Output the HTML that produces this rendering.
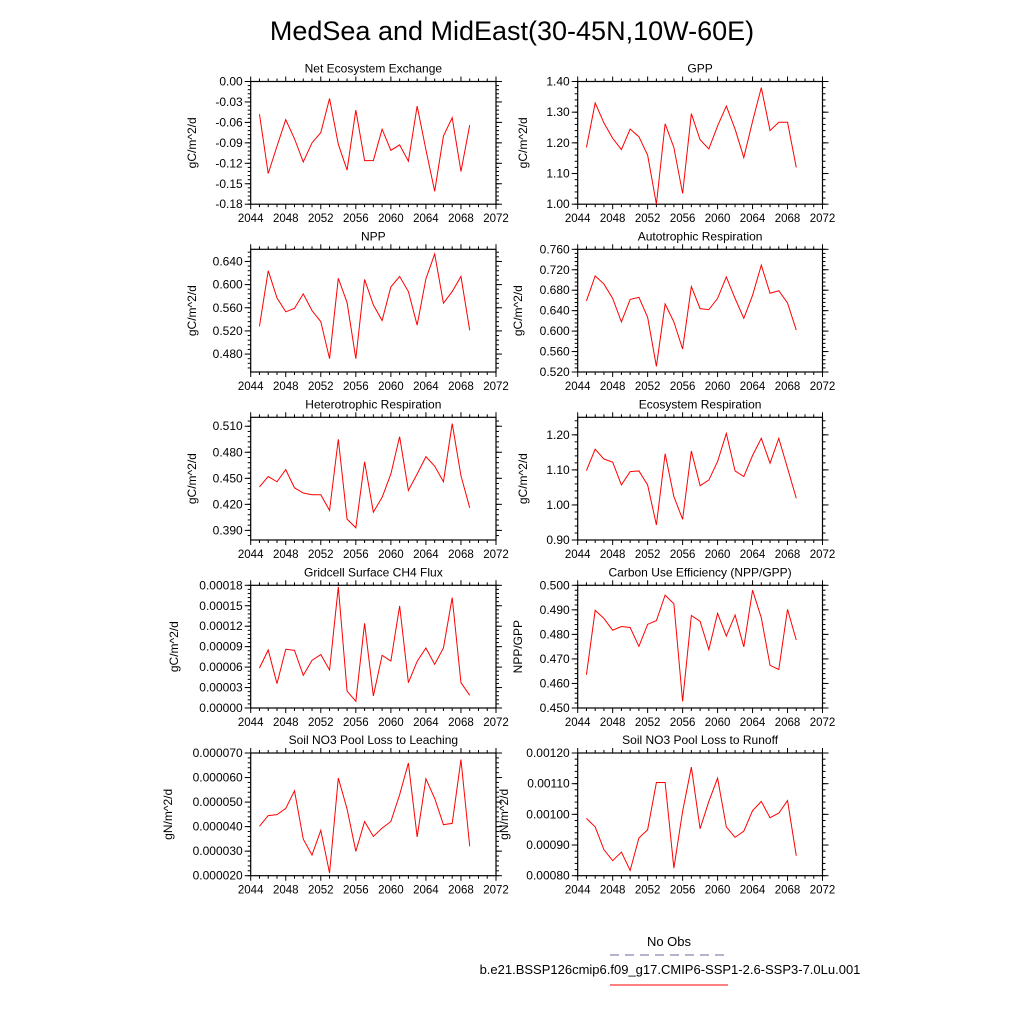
<!DOCTYPE html>
<html><head><meta charset="utf-8"><style>
html,body{margin:0;padding:0;background:#fff;}
svg{display:block;font-family:"Liberation Sans",sans-serif;}
</style></head><body>
<svg id="chart" width="1024" height="1024" viewBox="0 0 1024 1024" xmlns="http://www.w3.org/2000/svg">
<text x="512" y="40" font-size="27" text-anchor="middle">MedSea and MidEast(30-45N,10W-60E)</text>
<g>
<text x="669" y="946" font-size="13" text-anchor="middle">No Obs</text>
<line x1="610" y1="955" x2="728" y2="955" stroke="#6a6a9a" stroke-width="1" stroke-dasharray="9,6"/>
<text x="670" y="974" font-size="13" text-anchor="middle">b.e21.BSSP126cmip6.f09_g17.CMIP6-SSP1-2.6-SSP3-7.0Lu.001</text>
<line x1="610" y1="985" x2="728" y2="985" stroke="red" stroke-width="1"/>
</g>
<g id="panels"></g>
</svg>
<script>
const years = [2045,2046,2047,2048,2049,2050,2051,2052,2053,2054,2055,2056,2057,2058,2059,2060,2061,2062,2063,2064,2065,2066,2067,2068,2069];
const xTicks = [2044,2048,2052,2056,2060,2064,2068,2072];
const neeValues = [-0.048,-0.135,-0.095,-0.056,-0.084,-0.118,-0.090,-0.075,-0.025,-0.092,-0.130,-0.042,-0.116,-0.116,-0.070,-0.101,-0.093,-0.117,-0.036,-0.100,-0.161,-0.080,-0.053,-0.132,-0.064];
const gppValues = [1.185,1.33,1.265,1.215,1.178,1.245,1.22,1.16,1.00,1.262,1.185,1.035,1.295,1.21,1.18,1.255,1.32,1.245,1.152,1.27,1.38,1.24,1.267,1.267,1.12];
const nppValues = [0.528,0.624,0.577,0.553,0.559,0.584,0.555,0.536,0.472,0.611,0.569,0.472,0.609,0.565,0.538,0.596,0.614,0.588,0.530,0.610,0.653,0.568,0.588,0.614,0.521];
const arValues = [0.659,0.708,0.692,0.664,0.618,0.662,0.666,0.627,0.531,0.653,0.618,0.565,0.687,0.644,0.642,0.664,0.706,0.664,0.625,0.670,0.729,0.674,0.679,0.655,0.602];
const hrValues = [0.440,0.452,0.446,0.460,0.439,0.433,0.431,0.431,0.413,0.495,0.403,0.393,0.469,0.411,0.428,0.455,0.498,0.436,0.455,0.475,0.464,0.446,0.513,0.453,0.416];
const erValues = [1.098,1.159,1.131,1.122,1.057,1.095,1.097,1.057,0.943,1.146,1.024,0.959,1.154,1.055,1.071,1.124,1.204,1.097,1.081,1.141,1.190,1.119,1.190,1.105,1.019];
const ch4Values = [0.0000587,0.0000851,0.0000357,0.0000861,0.0000846,0.0000479,0.0000699,0.0000783,0.0000558,0.0001776,0.0000249,0.0000098,0.0001242,0.0000176,0.0000773,0.0000689,0.0001497,0.0000371,0.0000685,0.0000880,0.0000641,0.0000880,0.0001619,0.0000371,0.0000186];
const cueValues = [0.4636,0.4898,0.4865,0.4817,0.4832,0.4828,0.4751,0.4841,0.4856,0.4960,0.4925,0.4527,0.4877,0.4853,0.4738,0.4886,0.4793,0.4879,0.4749,0.4980,0.4868,0.4674,0.4657,0.4902,0.4777];
const leachValues = [0.0000401,0.0000445,0.0000449,0.0000474,0.0000546,0.0000349,0.0000284,0.0000385,0.0000211,0.0000598,0.0000472,0.0000299,0.0000421,0.0000360,0.0000394,0.0000421,0.0000530,0.0000659,0.0000358,0.0000595,0.0000515,0.0000408,0.0000413,0.0000673,0.0000320];
const runoffValues = [0.000987,0.000959,0.000885,0.000849,0.000877,0.000817,0.000923,0.000950,0.001104,0.001104,0.000825,0.001010,0.001154,0.000953,0.001042,0.001118,0.000959,0.000925,0.000945,0.001012,0.001042,0.000989,0.001004,0.001045,0.000865];
const neeTicks = ["0.00","-0.03","-0.06","-0.09","-0.12","-0.15","-0.18"];
const gppTicks = ["1.00","1.10","1.20","1.30","1.40"];
const nppTicks = ["0.480","0.520","0.560","0.600","0.640"];
const arTicks = ["0.520","0.560","0.600","0.640","0.680","0.720","0.760"];
const hrTicks = ["0.390","0.420","0.450","0.480","0.510"];
const erTicks = ["0.90","1.00","1.10","1.20"];
const ch4Ticks = ["0.00000","0.00003","0.00006","0.00009","0.00012","0.00015","0.00018"];
const cueTicks = ["0.450","0.460","0.470","0.480","0.490","0.500"];
const leachTicks = ["0.000020","0.000030","0.000040","0.000050","0.000060","0.000070"];
const runoffTicks = ["0.00080","0.00090","0.00100","0.00110","0.00120"];

const panels = [
 {name:"nee",title:"Net Ecosystem Exchange",unit:"gC/m^2/d",col:0,row:0,ymin:-0.18,ymax:0,vals:neeValues,ticks:neeTicks,minor:0.006,ytx:196},
 {name:"gpp",title:"GPP",unit:"gC/m^2/d",col:1,row:0,ymin:1.0,ymax:1.4,vals:gppValues,ticks:gppTicks,minor:0.02,ytx:527},
 {name:"npp",title:"NPP",unit:"gC/m^2/d",col:0,row:1,ymin:0.449,ymax:0.661,vals:nppValues,ticks:nppTicks,minor:0.008,ytx:196},
 {name:"autotrophic-respiration",title:"Autotrophic Respiration",unit:"gC/m^2/d",col:1,row:1,ymin:0.52,ymax:0.76,vals:arValues,ticks:arTicks,minor:0.008,ytx:522},
 {name:"heterotrophic-respiration",title:"Heterotrophic Respiration",unit:"gC/m^2/d",col:0,row:2,ymin:0.3789,ymax:0.5203,vals:hrValues,ticks:hrTicks,minor:0.006,ytx:196},
 {name:"ecosystem-respiration",title:"Ecosystem Respiration",unit:"gC/m^2/d",col:1,row:2,ymin:0.9,ymax:1.25,vals:erValues,ticks:erTicks,minor:0.02,ytx:527},
 {name:"ch4-flux",title:"Gridcell Surface CH4 Flux",unit:"gC/m^2/d",col:0,row:3,ymin:0,ymax:0.00018,vals:ch4Values,ticks:ch4Ticks,minor:0.000006,ytx:178},
 {name:"carbon-use-efficiency",title:"Carbon Use Efficiency (NPP/GPP)",unit:"NPP/GPP",col:1,row:3,ymin:0.45,ymax:0.5,vals:cueValues,ticks:cueTicks,minor:0.002,ytx:522},
 {name:"no3-leaching",title:"Soil NO3 Pool Loss to Leaching",unit:"gN/m^2/d",col:0,row:4,ymin:0.00002,ymax:0.00007,vals:leachValues,ticks:leachTicks,minor:0.000002,ytx:172},
 {name:"no3-runoff",title:"Soil NO3 Pool Loss to Runoff",unit:"gN/m^2/d",col:1,row:4,ymin:0.0008,ymax:0.0012,vals:runoffValues,ticks:runoffTicks,minor:0.00002,ytx:508}
];
const NS="http://www.w3.org/2000/svg";
const root=document.getElementById('panels');
function mk(tag,attrs,parent){const e=document.createElementNS(NS,tag);for(const k in attrs)e.setAttribute(k,attrs[k]);parent.appendChild(e);return e;}
const colX=[250.7,577.7], W=[245.3,244.8], rowY=[81.5,249.3,417.3,585.3,753], H=122.7;
panels.forEach(p=>{
 const x0=colX[p.col], w=W[p.col], y0=rowY[p.row];
 const xs=v=>x0+(v-2044)/(2072-2044)*w;
 const ys=v=>y0+H-(v-p.ymin)/(p.ymax-p.ymin)*H;
 const g=mk('g',{},root);
 
 
 const t=mk('text',{x:x0+w/2,y:y0-9,'font-size':12,'text-anchor':'middle'},g);t.textContent=p.title;
 
 
 const yt=mk('text',{x:p.ytx,y:y0+H/2,'font-size':12,'text-anchor':'middle',transform:`rotate(-90 ${p.ytx} ${y0+H/2})`},g);yt.textContent=p.unit;
 
 
 // minor x ticks
 for(let yr=2044;yr<=2072;yr++){const xx=xs(yr);const L=(yr%4===0)?5:3;
  mk('line',{x1:xx,y1:y0+H,x2:xx,y2:y0+H+L,stroke:'#000','stroke-width':1},g);
  mk('line',{x1:xx,y1:y0,x2:xx,y2:y0-L,stroke:'#000','stroke-width':1},g);}
 xTicks.forEach(v=>{const tx=mk('text',{x:xs(v),y:y0+H+18,'font-size':11.5,'text-anchor':'middle'},g);tx.textContent=v;
  
  });
 // minor y ticks
 const n=Math.round((p.ymax-p.ymin)/p.minor);
 const start=Math.ceil(p.ymin/p.minor-1e-6);
 for(let i=start;i*p.minor<=p.ymax+1e-12;i++){const yy=ys(i*p.minor);
  mk('line',{x1:x0,y1:yy,x2:x0-3,y2:yy,stroke:'#000','stroke-width':1},g);
  mk('line',{x1:x0+w,y1:yy,x2:x0+w+3,y2:yy,stroke:'#000','stroke-width':1},g);}
 p.ticks.forEach(s=>{const v=parseFloat(s);const yy=ys(v);
  mk('line',{x1:x0,y1:yy,x2:x0-6,y2:yy,stroke:'#000','stroke-width':1},g);
  mk('line',{x1:x0+w,y1:yy,x2:x0+w+6,y2:yy,stroke:'#000','stroke-width':1},g);
  const tl=mk('text',{x:x0-8,y:yy+4,'font-size':12,'text-anchor':'end'},g);tl.textContent=s;
  
  });
 const fr=mk('rect',{x:x0,y:y0,width:w,height:H,fill:'none',stroke:'#000','stroke-width':1.2},g);
 
 
 const pts=p.vals.map((v,i)=>xs(years[i]).toFixed(2)+','+ys(v).toFixed(2)).join(' ');
 const line=mk('polyline',{points:pts,fill:'none',stroke:'red','stroke-width':1},g);
 
 
});
</script>
</body></html>
